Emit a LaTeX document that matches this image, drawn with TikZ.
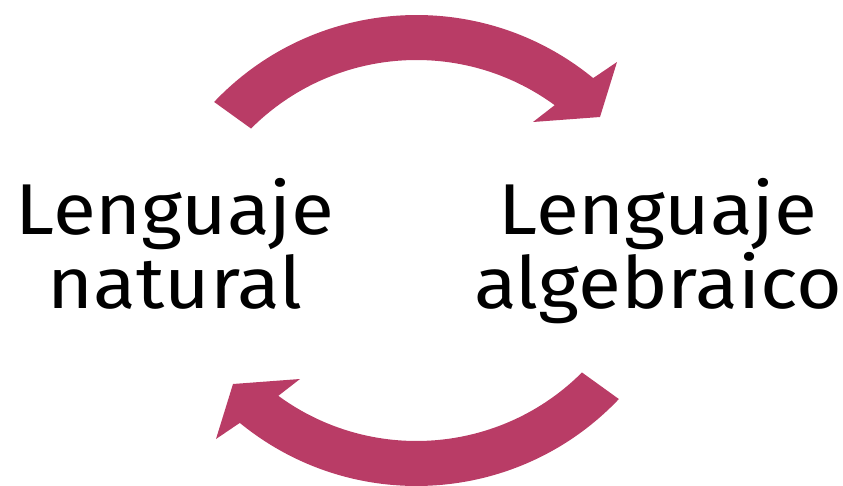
\documentclass[tikz,border=0pt]{standalone}
\usepackage{fontspec}
\setmainfont{Fira Sans}[FakeStretch=1.09]
\definecolor{arrowred}{RGB}{185,60,102}
\begin{document}
\begin{tikzpicture}[x=1pt,y=1pt,
  label text/.style={inner sep=0pt,align=center,font=\fontsize{72}{74}\selectfont},
  bigarrow/.style={fill=arrowred,draw=none}]
\useasboundingbox (0,0) rectangle (843,-486);
\node[label text] (nat) at (175,-243.5) {Lenguaje\\natural};
\node[label text] (alg) at (658,-251) {Lenguaje\\algebraico};
% top arrow: natural -> algebraico
\begin{scope}[shift={(416.5,-294)}]
  \path[bigarrow] (136.5:279) arc[start angle=136.5,end angle=50.7,radius=279]
    -- (200.5,232) -- (183.5,177) -- (116.5,172)
    -- (53.8:234) arc[start angle=53.8,end angle=135,radius=234] -- cycle;
\end{scope}
% bottom arrow: algebraico -> natural (same shape turned half round)
\begin{scope}[rotate around={180:(416.5,-250.5)},shift={(416.5,-294)}]
  \path[bigarrow] (136.5:279) arc[start angle=136.5,end angle=50.7,radius=279]
    -- (200.5,232) -- (183.5,177) -- (116.5,172)
    -- (53.8:234) arc[start angle=53.8,end angle=135,radius=234] -- cycle;
\end{scope}
\end{tikzpicture}
\end{document}
